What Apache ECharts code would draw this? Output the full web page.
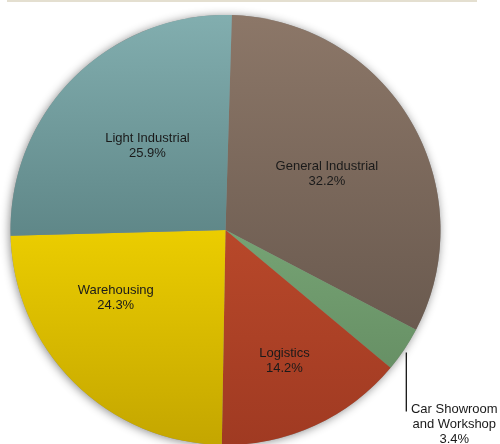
<!DOCTYPE html>
<html>
<head>
<meta charset="utf-8">
<script src="https://cdn.jsdelivr.net/npm/echarts@6/dist/echarts.min.js"></script>
<style>
  html, body { margin: 0; padding: 0; background: #ffffff; }
  #chart { width: 500px; height: 444px; }
</style>
</head>
<body>
<div id="chart"></div>
<script>
// Floor-space mix by property type (share of total, %)
const categories = ['General Industrial', 'Car Showroom\nand Workshop', 'Logistics', 'Warehousing', 'Light Industrial'];
const shares = [32.2, 3.4, 14.2, 24.3, 25.9];

// Gradient stops per slice: lighter at the top, darker at the bottom
const topColors    = ['#8c7768', '#76a374', '#b8482a', '#ebcd00', '#82aeaf'];
const bottomColors = ['#6a5a4f', '#679065', '#a03a22', '#c4a600', '#5f8788'];

// Nudges for the inside labels, by slice
const labelShift = [[6, 0], [0, 0], [13, 30], [-32, -11], [0, -6]];

const center = [225.5, 230];
const radius = 215;

const chart = echarts.init(document.getElementById('chart'), null, { renderer: 'canvas' });

const data = categories.map((name, i) => ({
  name: name,
  value: shares[i],
  itemStyle: {
    color: {
      type: 'linear', x: 0, y: 0, x2: 0, y2: 1,
      colorStops: [
        { offset: 0, color: topColors[i] },
        { offset: 1, color: bottomColors[i] }
      ]
    }
  },
  label: i === 1
    ? { position: 'outside', overflow: 'none', width: 88, edgeDistance: 0 }
    : { position: 'inside' },
  labelLine: { show: i === 1 }
}));

chart.setOption({
  animation: false,
  backgroundColor: '#ffffff',
  graphic: [{
    type: 'line',
    shape: { x1: 7, y1: 1, x2: 477, y2: 1 },
    style: { stroke: '#e4dfd0', lineWidth: 2 },
    silent: true
  }],
  series: [
    {
      // soft drop shadow under the whole disc
      type: 'pie',
      center: center,
      radius: radius,
      silent: true,
      z: 1,
      label: { show: false },
      labelLine: { show: false },
      itemStyle: {
        color: '#8a8a8a',
        shadowBlur: 10,
        shadowColor: 'rgba(0,0,0,0.45)',
        shadowOffsetX: -1,
        shadowOffsetY: 1
      },
      data: [{ value: 1 }]
    },
    {
      type: 'pie',
      center: center,
      radius: radius,
      startAngle: 88.3,
      clockwise: true,
      z: 2,
      data: data,
      itemStyle: { borderWidth: 0 },
      label: {
        show: true,
        color: '#1a1a1a',
        fontFamily: 'Liberation Sans, Arial, sans-serif',
        fontSize: 13,
        lineHeight: 15,
        align: 'center',
        overflow: 'none',
        formatter: p => p.name + '\n' + p.value.toFixed(1) + '%'
      },
      labelLine: {
        show: true,
        length: 10,
        length2: 0,
        lineStyle: { color: '#000000', width: 1.2 }
      },
      labelLayout: function (params) {
        const i = params.dataIndex;
        if (i === 1 && params.labelLinePoints) {
          const p0 = params.labelLinePoints[0];
          const lx = p0[0] + 2;
          const top = p0[1] + 3;
          const bottom = p0[1] + 62;
          return {
            x: lx + 4 + params.labelRect.width / 2,
            y: bottom - 9,
            align: 'center',
            verticalAlign: 'top',
            labelLinePoints: [[lx, top], [lx, bottom], [lx, bottom]]
          };
        }
        return { dx: labelShift[i][0], dy: labelShift[i][1] };
      }
    }
  ]
});
</script>
</body>
</html>
